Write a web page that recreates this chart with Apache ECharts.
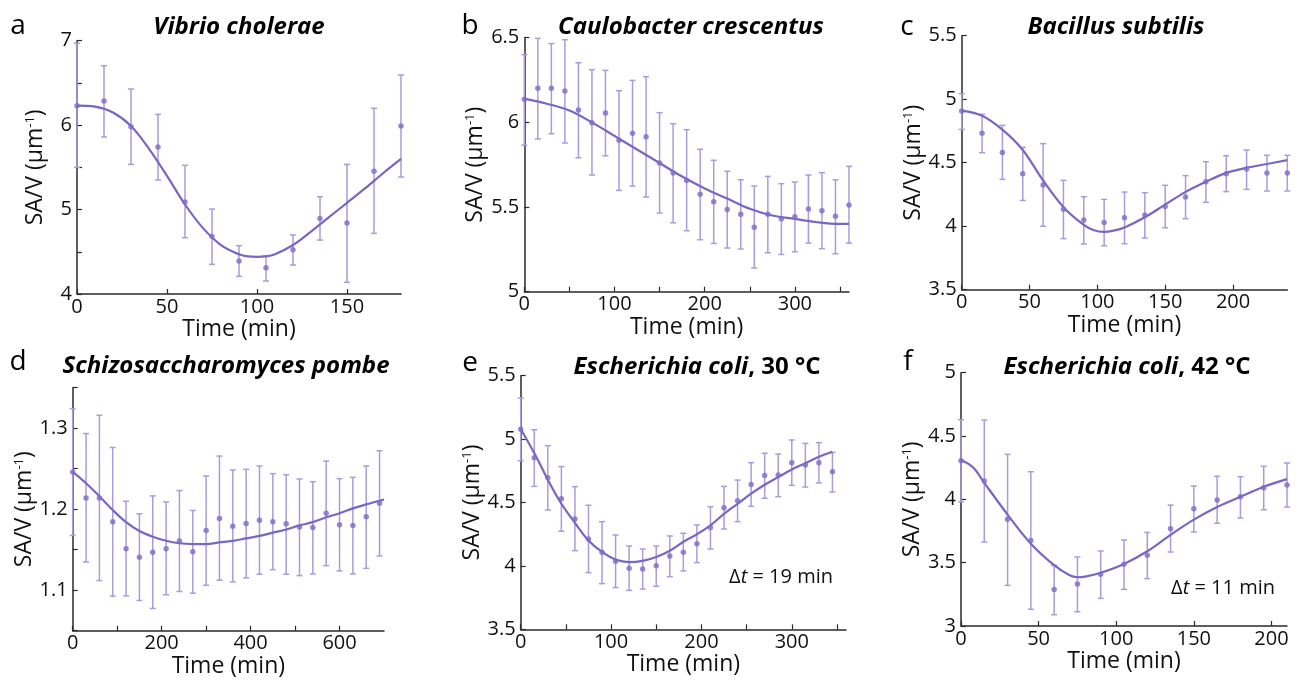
<!DOCTYPE html>
<html><head><meta charset="utf-8">
<script src="https://cdn.jsdelivr.net/npm/echarts@6/dist/echarts.min.js"></script>
<style>html,body{margin:0;padding:0;background:#fff}#c{width:1297px;height:683px}</style>
</head><body><div id="c"></div>
<script>
// ---- Panel a: Vibrio cholerae ----
const aX  = [0,15,30,45,60,75,90,105,120,135,150,165,180];
const aY  = [6.23,6.285,5.98,5.74,5.09,4.68,4.39,4.31,4.525,4.895,4.84,5.455,5.99];
const aLo = [5.50,5.86,5.535,5.35,4.667,4.351,4.209,4.154,4.343,4.639,4.138,4.718,5.385];
const aHi = [6.97,6.704,6.428,6.128,5.524,5.006,4.572,4.454,4.699,5.152,5.535,6.199,6.593];
const aFitX = [0,10,20,30,40,50,60,70,80,90,95,100,105,110,120,130,140,150,160,170,180];
const aFitY = [6.23,6.22,6.15,5.99,5.72,5.40,5.06,4.78,4.58,4.47,4.445,4.44,4.445,4.47,4.58,4.74,4.91,5.08,5.25,5.43,5.60];

// ---- Panel b: Caulobacter crescentus ----
const bX  = [0,15,30,45,60,75,90,105,120,135,150,165,180,195,210,225,240,255,270,285,300,315,330,345,360];
const bY  = [6.136,6.201,6.201,6.185,6.073,5.998,6.055,5.894,5.935,5.915,5.760,5.701,5.657,5.575,5.531,5.486,5.457,5.380,5.457,5.431,5.443,5.488,5.478,5.445,5.512];
const bLo = [5.866,5.902,5.933,5.878,5.791,5.689,5.803,5.598,5.624,5.559,5.465,5.407,5.360,5.307,5.285,5.258,5.252,5.140,5.230,5.220,5.236,5.287,5.254,5.224,5.287];
const bHi = [6.400,6.496,6.465,6.488,6.352,6.311,6.307,6.187,6.248,6.270,6.057,5.992,5.957,5.841,5.776,5.711,5.661,5.624,5.681,5.638,5.648,5.689,5.703,5.661,5.740];
const bFitX = [0,25,50,75,100,125,150,175,200,225,250,275,300,325,350,360];
const bFitY = [6.14,6.11,6.07,6.00,5.92,5.84,5.76,5.68,5.61,5.55,5.49,5.45,5.43,5.41,5.40,5.40];

// ---- Panel c: Bacillus subtilis ----
const cX  = [0,15,30,45,60,75,90,105,120,135,150,165,180,195,210,225,240];
const cY  = [4.907,4.731,4.581,4.413,4.324,4.133,4.049,4.030,4.067,4.088,4.156,4.230,4.350,4.413,4.450,4.419,4.419];
const cLo = [4.762,4.579,4.369,4.203,4.000,3.902,3.860,3.846,3.862,3.907,3.988,4.059,4.188,4.272,4.290,4.277,4.277];
const cHi = [5.043,4.881,4.794,4.621,4.650,4.361,4.232,4.211,4.269,4.264,4.322,4.398,4.508,4.555,4.600,4.558,4.558];
const cFitX = [0,15,30,45,60,75,90,97,105,112,120,135,150,165,180,195,210,225,240];
const cFitY = [4.91,4.87,4.76,4.60,4.36,4.15,4.01,3.97,3.955,3.965,3.99,4.07,4.17,4.27,4.35,4.42,4.46,4.49,4.52];

// ---- Panel d: Schizosaccharomyces pombe ----
const dX  = [0,30,60,90,120,150,180,210,240,270,300,330,360,390,420,450,480,510,540,570,600,630,660,690];
const dY  = [1.2459,1.2139,1.2139,1.1844,1.1512,1.1406,1.1467,1.1512,1.1607,1.1475,1.1738,1.1885,1.1791,1.1824,1.1865,1.1844,1.1820,1.1779,1.1775,1.1951,1.1807,1.1799,1.1906,1.2074];
const dLo = [1.1676,1.1348,1.1119,1.0926,1.0930,1.0873,1.0775,1.0943,1.0984,1.0963,1.1061,1.1123,1.1102,1.1152,1.1197,1.1254,1.1197,1.1180,1.1201,1.1303,1.1238,1.1201,1.1270,1.1422];
const dHi = [1.3242,1.2934,1.3160,1.2762,1.2098,1.1943,1.2164,1.2090,1.2230,1.1984,1.2410,1.2656,1.2484,1.2492,1.2533,1.2439,1.2426,1.2373,1.2340,1.2594,1.2377,1.2393,1.2533,1.2721];
const dFitX = [0,30,60,90,120,150,180,210,240,270,300,330,360,390,420,450,480,510,540,570,600,630,660,700];
const dFitY = [1.246,1.232,1.216,1.199,1.184,1.173,1.166,1.161,1.158,1.157,1.157,1.159,1.161,1.164,1.167,1.171,1.175,1.180,1.184,1.190,1.195,1.201,1.206,1.212];

// ---- Panel e: Escherichia coli, 30 °C ----
const eX  = [0,15,30,45,60,75,90,105,120,135,150,165,180,195,210,225,240,255,270,285,300,315,330,345];
const eY  = [5.077,4.853,4.696,4.530,4.370,4.212,4.107,4.036,3.981,3.976,4.002,4.078,4.107,4.175,4.302,4.459,4.514,4.641,4.712,4.717,4.814,4.796,4.814,4.743];
const eLo = [4.830,4.627,4.441,4.273,4.120,3.947,3.860,3.829,3.807,3.818,3.839,3.915,3.960,4.026,4.133,4.291,4.349,4.470,4.533,4.546,4.635,4.622,4.654,4.583];
const eHi = [5.324,5.074,4.948,4.783,4.625,4.478,4.349,4.244,4.157,4.133,4.157,4.236,4.257,4.323,4.467,4.627,4.677,4.814,4.888,4.882,4.993,4.966,4.972,4.895];
const eFitX = [0,15,30,45,60,75,90,105,120,135,150,165,180,195,210,225,240,255,270,285,300,315,330,345];
const eFitY = [5.08,4.89,4.68,4.49,4.34,4.20,4.11,4.05,4.03,4.04,4.07,4.12,4.19,4.25,4.32,4.41,4.49,4.57,4.64,4.70,4.76,4.81,4.86,4.90];

// ---- Panel f: Escherichia coli, 42 °C ----
const fX  = [0,15,30,45,60,75,90,105,120,135,150,165,180,195,210];
const fY  = [4.305,4.145,3.842,3.676,3.289,3.332,3.408,3.487,3.558,3.768,3.926,3.995,4.021,4.092,4.113];
const fLo = [3.98,3.663,3.321,3.132,3.089,3.113,3.218,3.289,3.374,3.584,3.742,3.811,3.853,3.918,3.939];
const fHi = [4.629,4.626,4.355,4.218,3.479,3.545,3.592,3.679,3.739,3.955,4.105,4.182,4.179,4.261,4.287];
const fFitX = [0,8,15,30,45,60,70,75,80,90,105,120,135,150,165,180,195,210];
const fFitY = [4.31,4.25,4.13,3.88,3.65,3.48,3.40,3.385,3.39,3.42,3.49,3.59,3.72,3.84,3.94,4.02,4.10,4.16];

// ---- Texts ----
const panelLetters = ['a','b','c','d','e','f'];
const panelTitles = ['{i|Vibrio cholerae}','{i|Caulobacter crescentus}','{i|Bacillus subtilis}',
  '{i|Schizosaccharomyces pombe}','{i|Escherichia coli}{n|, 30 °C}','{i|Escherichia coli}{n|, 42 °C}'];
const dtTexts = ['{n|Δ}{i|t}{n| = 19 min}','{n|Δ}{i|t}{n| = 11 min}'];
const xName = 'Time (min)';
const yName = 'SA/V (μm{s|-1})';

const FONT = '"Open Sans", sans-serif';
const LINE = '#7668c2';
const DOT = '#7a6dc4';
const EB = '#a69edb';
const AX = '#2a2a2a';

const panels = [
  {X:aX,Y:aY,Lo:aLo,Hi:aHi,FX:aFitX,FY:aFitY, grid:[77,40.7,324,253.3], xmax:180, xt:50, xl:50, ymin:4, ymax:7, yt:0.5, yl:1},
  {X:bX,Y:bY,Lo:bLo,Hi:bHi,FX:bFitX,FY:bFitY, grid:[524.3,37.7,324.7,254], xmax:360, xt:50, xl:100, ymin:5, ymax:6.5, yt:0.5, yl:0.5},
  {X:cX,Y:cY,Lo:cLo,Hi:cHi,FX:cFitX,FY:cFitY, grid:[961.7,35.7,325.6,254], xmax:240, xt:50, xl:50, ymin:3.5, ymax:5.5, yt:0.5, yl:0.5},
  {X:dX,Y:dY,Lo:dLo,Hi:dHi,FX:dFitX,FY:dFitY, grid:[72.7,387.7,311.3,243], xmax:700, xt:100, xl:200, ymin:1.05, ymax:1.35, yt:0.05, yl:0.1},
  {X:eX,Y:eY,Lo:eLo,Hi:eHi,FX:eFitX,FY:eFitY, grid:[520.7,375.7,325.3,253.6], xmax:360, xt:50, xl:100, ymin:3.5, ymax:5.5, yt:0.5, yl:0.5},
  {X:fX,Y:fY,Lo:fLo,Hi:fHi,FX:fFitX,FY:fFitY, grid:[961,372.7,326,253.3], xmax:210, xt:50, xl:50, ymin:3, ymax:5, yt:0.5, yl:0.5}
];
const titlePos = [[239,13],[691,13],[1116,13],[226,352],[697,353],[1127,353]];
const letterPos = [[18,9],[470,9],[907,10],[18,345],[470,346],[908,345]];
const dtPos = [[833,565],[1275,576]];

function isMult(v, step){ const r = v/step; return Math.abs(r - Math.round(r)) < 1e-6; }
function fmtNum(v){ return String(Math.round(v*1000)/1000); }

const grids=[], xAxes=[], yAxes=[], series=[], titles=[];
panels.forEach((p,i)=>{
  grids.push({left:p.grid[0], top:p.grid[1], width:p.grid[2], height:p.grid[3], containLabel:false});
  xAxes.push({type:'value', gridIndex:i, min:0, max:p.xmax, interval:p.xt,
    name:xName, nameLocation:'middle', nameGap:17,
    nameTextStyle:{fontFamily:FONT, fontSize:23, color:'#111', verticalAlign:'top'},
    axisLine:{show:true, lineStyle:{color:AX, width:1.5}},
    axisTick:{show:true, inside:true, length:5, lineStyle:{color:AX, width:1.2}},
    axisLabel:{fontFamily:FONT, fontSize:20, color:'#111', margin:3, showMaxLabel:false,
      formatter:v=> isMult(v,p.xl) ? fmtNum(v) : ''},
    splitLine:{show:false}});
  yAxes.push({type:'value', gridIndex:i, min:p.ymin, max:p.ymax, interval:p.yt,
    name:yName, nameLocation:'middle', nameGap:30, nameRotate:90,
    nameTextStyle:{fontFamily:FONT, fontSize:23, color:'#111',
      rich:{s:{fontFamily:FONT, fontSize:13, color:'#111', verticalAlign:'top', lineHeight:12}}},
    axisLine:{show:true, lineStyle:{color:AX, width:1.5}},
    axisTick:{show:true, inside:true, length:5, lineStyle:{color:AX, width:1.2}},
    axisLabel:{fontFamily:FONT, fontSize:20, color:'#111', margin:5,
      formatter:v=> isMult(v, p.yl) ? fmtNum(v) : ''},
    splitLine:{show:false}});
  series.push({type:'custom', xAxisIndex:i, yAxisIndex:i, clip:false, z:2,
    data:p.X.map((x,k)=>[x,p.Lo[k],p.Hi[k]]),
    encode:{x:0, y:[1,2]},
    renderItem:(params, api)=>{
      const x=api.value(0), lo=api.value(1), hi=api.value(2);
      const a=api.coord([x,hi]), b=api.coord([x,lo]); const w=3;
      const st={stroke:EB, lineWidth:1.5};
      return {type:'group', children:[
        {type:'line', shape:{x1:a[0],y1:a[1],x2:b[0],y2:b[1]}, style:st},
        {type:'line', shape:{x1:a[0]-w,y1:a[1],x2:a[0]+w,y2:a[1]}, style:st},
        {type:'line', shape:{x1:b[0]-w,y1:b[1],x2:b[0]+w,y2:b[1]}, style:st}
      ]};
    }});
  series.push({type:'line', xAxisIndex:i, yAxisIndex:i, data:p.FX.map((x,k)=>[x,p.FY[k]]),
    smooth:0.35, showSymbol:false, symbol:'none', lineStyle:{color:LINE, width:2.2}, z:3, animation:false});
  series.push({type:'scatter', xAxisIndex:i, yAxisIndex:i, data:p.X.map((x,k)=>[x,p.Y[k]]),
    symbolSize:5.5, itemStyle:{color:DOT}, z:4, animation:false});

  titles.push({text:panelTitles[i], left:titlePos[i][0], top:titlePos[i][1], textAlign:'center', padding:0,
    textStyle:{rich:{
      i:{fontFamily:FONT, fontSize:24, fontWeight:'bold', fontStyle:'italic', color:'#000', lineHeight:28},
      n:{fontFamily:FONT, fontSize:24, fontWeight:'bold', color:'#000', lineHeight:28}}}});
  titles.push({text:panelLetters[i], left:letterPos[i][0], top:letterPos[i][1], textAlign:'center', padding:0,
    textStyle:{fontFamily:FONT, fontSize:28, fontWeight:'normal', color:'#000', lineHeight:34}});
});
dtTexts.forEach((t,j)=>{
  titles.push({text:t, left:dtPos[j][0], top:dtPos[j][1], textAlign:'right', padding:0,
    textStyle:{fontWeight:'normal', rich:{
      n:{fontFamily:FONT, fontSize:20, fontWeight:'normal', color:'#111', lineHeight:25},
      i:{fontFamily:FONT, fontSize:20, fontWeight:'normal', fontStyle:'italic', color:'#111', lineHeight:25}}}});
});

const chart = echarts.init(document.getElementById('c'), null, {renderer:'canvas'});
chart.setOption({animation:false, backgroundColor:'#fff', title:titles, grid:grids, xAxis:xAxes, yAxis:yAxes, series:series});
</script></body></html>
